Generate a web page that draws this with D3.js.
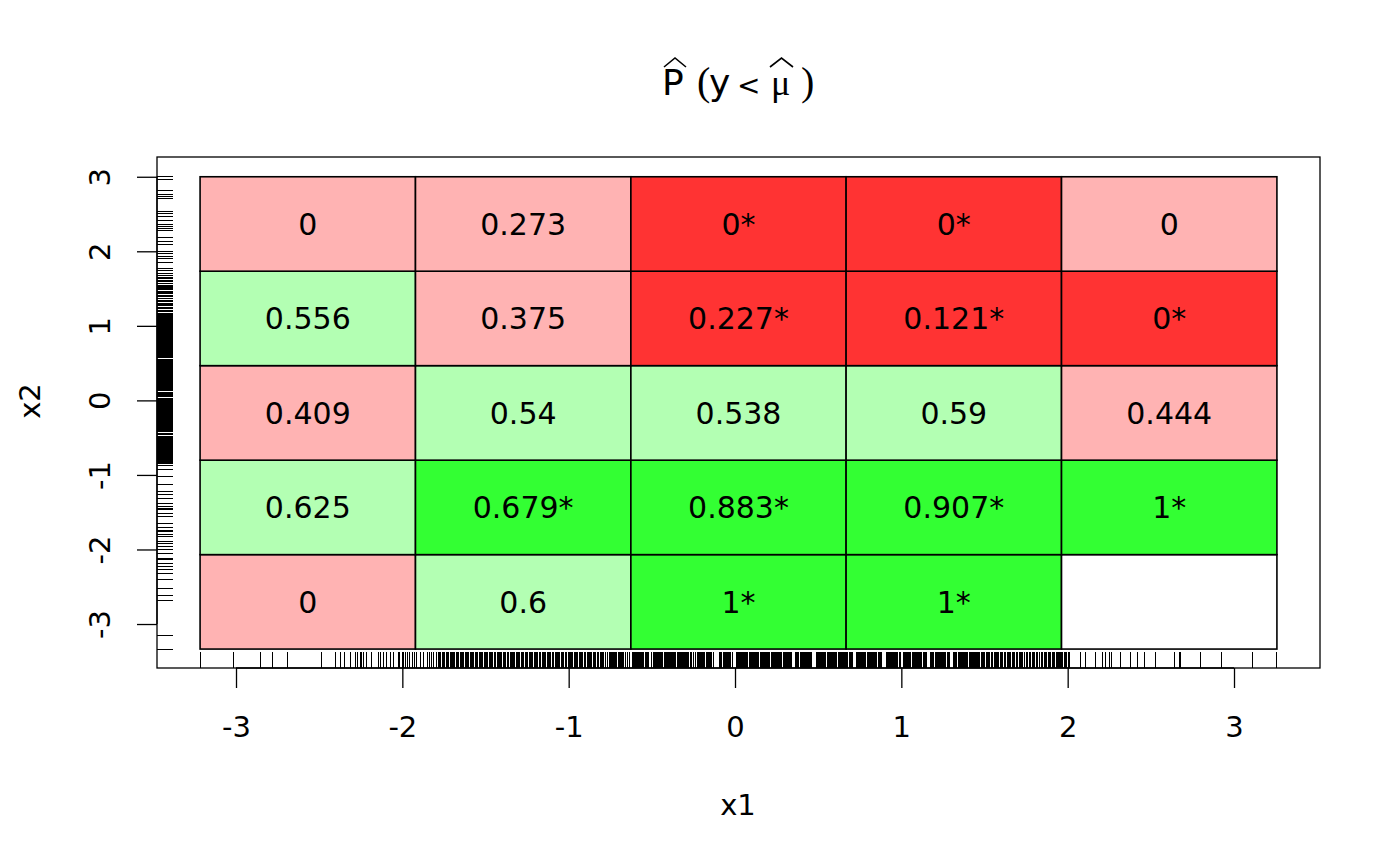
<!DOCTYPE html>
<html>
<head>
<meta charset="utf-8">
<script src="https://cdn.jsdelivr.net/npm/d3@7"></script>
<style>
  html, body { margin: 0; padding: 0; background: #fff; }
  svg { display: block; }
  text { font-family: "DejaVu Sans", sans-serif; fill: #000; }
</style>
</head>
<body>
<svg id="chart" width="1400" height="865"></svg>
<script>
// ---- data ----
const xBreaks = [-3.216, -1.921, -0.626, 0.668, 1.963, 3.258];
const yBreaks = [-3.336, -2.069, -0.802, 0.466, 1.733, 3.0];
// rows listed from bottom (y bin 1) to top (y bin 5), columns x bin 1..5
const cellValues = [
  [0, 0.6, 1, 1, null],
  [0.625, 0.679, 0.883, 0.907, 1],
  [0.409, 0.54, 0.538, 0.59, 0.444],
  [0.556, 0.375, 0.227, 0.121, 0],
  [0, 0.273, 0, 0, 0]
];
const cellSignif = [
  [false, false, true, true, false],
  [false, true, true, true, true],
  [false, false, false, false, false],
  [false, false, true, true, true],
  [false, false, true, true, false]
];
const xTicks = [-3, -2, -1, 0, 1, 2, 3];
const yTicks = [-3, -2, -1, 0, 1, 2, 3];
const x1Rug = [-3.216,-3.016,-2.851,-2.779,-2.688,-2.484,-2.400,-2.369,-2.350,-2.314,-2.279,-2.267,-2.253,-2.243,-2.233,-2.213,-2.183,-2.143,-2.129,-2.113,-2.093,-2.073,-2.053,-2.025,-2.015,-2.002,-1.991,-1.980,-1.968,-1.957,-1.936,-1.928,-1.912,-1.892,-1.872,-1.851,-1.838,-1.826,-1.811,
-1.796,-1.783,-1.771,-1.758,-1.744,-1.737,-1.721,-1.705,-1.698,-1.684,-1.669,-1.661,-1.645,-1.632,-1.622,-1.607,-1.593,-1.584,-1.570,-1.554,-1.546,-1.530,-1.517,-1.507,-1.493,-1.478,-1.468,-1.455,-1.439,-1.430,-1.416,-1.401,-1.391,-1.377,-1.362,-1.352,-1.339,-1.324,-1.313,-1.300,-1.285,-1.275,-1.262,-1.246,-1.236,-1.223,-1.208,-1.197,-1.185,-1.169,-1.159,-1.146,-1.130,-1.120,-1.107,-1.092,-1.081,-1.069,-1.053,-1.043,-1.030,-1.015,-1.004,-0.991,-0.976,-0.966,-0.953,-0.937,-0.927,-0.914,-0.899,-0.888,-0.876,-0.860,-0.850,-0.837,-0.821,-0.811,-0.798,-0.764,-0.750,-0.734,-0.723,-0.711,-0.696,-0.685,-0.672,-0.645,-0.619,-0.607,-0.594,-0.580,-0.568,-0.555,-0.541,-0.529,-0.491,-0.478,-0.464,-0.452,-0.440,-0.425,-0.413,-0.401,-0.387,-0.375,-0.362,-0.348,-0.336,-0.323,-0.309,-0.297,-0.284,-0.270,-0.235,-0.220,-0.207,-0.194,-0.181,-0.168,-0.155,-0.142,-0.093,-0.079,-0.066,-0.053,-0.040,-0.027,0.006,0.019,0.032,0.046,0.059,0.072,0.085,0.098,0.112,0.125,0.138,0.151,0.164,0.177,0.190,0.204,0.217,0.230,0.243,0.256,0.269,0.282,0.296,0.309,0.322,0.335,0.366,0.378,0.391,0.404,0.417,0.430,0.443,0.456,0.488,0.502,0.515,0.528,0.541,0.554,0.567,0.580,0.594,0.607,0.620,0.633,0.646,0.659,0.672,0.686,0.699,0.728,0.741,0.755,0.768,0.781,0.794,0.807,0.820,0.833,0.847,0.860,0.873,0.908,0.921,0.934,0.947,0.960,0.973,0.986,1.013,1.026,1.039,1.052,1.065,1.078,1.091,1.105,1.118,1.131,1.144,1.177,1.190,1.203,1.216,1.229,1.242,1.255,1.268,1.283,1.315,1.328,1.341,1.354,1.367,1.380,1.393,
-0.790,-0.778,-0.757,-0.742,-0.729,-0.716,-0.703,-0.690,-0.678,-0.659,-0.632,-0.612,-0.600,-0.587,-0.574,-0.561,-0.548,-0.535,-0.518,-0.504,-0.485,-0.471,-0.458,-0.446,-0.433,-0.419,-0.407,-0.394,-0.381,-0.368,-0.355,-0.342,-0.329,-0.316,-0.303,-0.290,-0.277,-0.262,-0.248,-0.227,-0.213,-0.200,-0.187,-0.174,-0.161,-0.148,-0.128,-0.086,-0.072,-0.059,-0.046,-0.033,-0.018,0.012,0.025,0.039,0.052,0.065,0.078,0.091,0.105,0.118,0.131,0.144,0.157,0.170,0.183,0.197,0.210,0.223,0.236,0.249,0.262,0.275,0.289,0.302,0.315,0.328,0.342,0.372,0.384,0.397,0.410,0.423,0.436,0.449,0.462,0.495,0.508,0.521,0.534,0.547,0.560,0.573,0.587,0.600,0.613,0.626,0.639,0.652,0.665,0.679,0.692,0.705,0.735,0.748,0.761,0.774,0.787,0.800,0.813,0.826,0.840,0.853,0.866,0.880,0.914,0.927,0.940,0.953,0.966,0.979,0.993,1.019,1.032,1.045,1.058,1.071,1.084,1.098,1.111,1.124,1.137,1.150,1.183,1.196,1.209,1.222,1.235,1.248,1.261,1.275,1.290,1.321,1.334,1.347,1.360,1.373,1.386,1.400,
-1.776,-1.751,-1.727,-1.712,-1.690,-1.676,-1.652,-1.638,-1.615,-1.600,-1.577,-1.562,-1.539,-1.524,-1.500,-1.486,-1.462,-1.447,-1.424,-1.409,-1.384,-1.370,-1.346,-1.331,-1.307,-1.293,-1.269,-1.254,-1.230,-1.215,-1.191,-1.177,-1.153,-1.138,-1.114,-1.100,-1.076,-1.061,-1.037,-1.022,-0.998,-0.984,-0.960,-0.945,-0.921,-0.906,-0.882,-0.868,-0.844,-0.829,-0.805,
1.407,1.414,1.421,1.427,1.432,1.440,1.446,1.452,1.459,1.465,1.471,1.480,1.488,1.495,1.502,1.509,1.517,1.525,1.533,1.542,1.551,1.558,1.566,1.572,1.578,1.586,1.594,1.603,1.611,1.620,1.629,1.636,1.643,1.650,1.658,1.667,1.675,1.683,1.690,1.699,1.709,1.716,1.722,1.731,1.741,1.750,1.760,1.769,1.778,1.786,1.793,1.802,1.812,1.821,1.831,1.840,1.850,1.858,1.866,1.875,1.884,1.891,1.899,1.907,1.915,1.923,1.931,1.939,1.946,1.952,1.958,1.964,1.969,1.978,1.986,1.995,2.004,2.012,2.079,2.109,2.169,2.209,2.229,2.249,2.264,2.320,2.375,2.420,2.460,2.530,2.640,2.670,2.681,2.797,2.925,3.112,3.258];
const x2Rug = [3.000,2.960,2.816,2.768,2.736,2.705,2.534,2.513,2.467,2.413,2.356,2.333,2.302,2.279,2.191,2.131,2.087,1.997,1.976,1.930,1.909,1.850,1.774,1.742,1.707,1.671,
1.652,1.637,1.629,1.611,1.598,1.590,1.571,1.563,1.547,1.529,1.520,1.506,1.488,1.481,1.466,1.450,1.437,1.429,1.413,1.396,1.387,1.371,1.362,1.344,1.330,1.324,1.306,1.291,1.283,1.268,1.250,1.239,1.227,1.211,1.198,1.190,1.172,1.160,1.149,1.133,1.120,1.107,1.095,1.081,1.066,1.058,1.043,1.027,1.016,1.004,0.989,0.973,0.966,0.949,0.937,0.925,0.908,0.896,0.887,0.869,0.855,0.846,0.830,0.817,0.805,0.791,0.776,0.768,0.750,0.738,0.727,0.711,0.699,0.686,0.672,0.660,0.648,0.631,0.622,0.607,0.593,0.581,0.570,0.553,0.542,0.529,0.515,0.503,0.490,0.476,0.465,0.451,0.437,0.426,0.412,0.398,0.388,0.372,0.361,0.348,0.333,0.321,0.309,0.294,0.282,0.270,0.254,0.245,0.229,0.216,0.205,0.190,0.177,0.166,0.150,0.139,0.126,0.110,0.099,0.085,0.071,0.060,0.046,0.032,0.021,0.007,-0.008,-0.019,-0.033,-0.048,-0.058,-0.073,-0.087,-0.097,-0.112,-0.127,-0.136,-0.151,-0.166,-0.176,-0.190,-0.205,-0.214,-0.229,-0.244,-0.253,-0.268,-0.283,-0.292,-0.307,-0.322,-0.331,-0.346,-0.361,-0.371,-0.385,-0.400,-0.410,-0.424,-0.439,-0.449,-0.463,-0.478,-0.488,-0.502,-0.517,-0.527,-0.541,-0.556,-0.566,-0.580,-0.595,-0.605,-0.619,-0.634,-0.644,-0.658,-0.673,-0.683,-0.697,-0.712,-0.722,-0.736,-0.751,-0.761,-0.775,-0.790,-0.800,-0.814,-0.829,-0.839,-0.853,-0.868,-0.878,
-0.933,-1.023,-1.134,-1.224,-1.268,-1.313,-1.380,-1.426,-1.448,-1.470,-1.514,-1.560,-1.648,-1.711,-1.740,-1.765,-1.797,-1.828,-1.895,-1.917,-1.963,-2.007,-2.051,-2.118,-2.141,-2.185,-2.231,-2.275,-2.319,-2.400,-2.521,-2.611,-2.678,-3.148,-3.336];

// ---- colours ----
const colLightRed = "#FFB3B3", colRed = "#FF3333", colLightGreen = "#B3FFB3", colGreen = "#33FF33";
function cellColor(v, s) {
  if (v === null) return "#FFFFFF";
  if (v < 0.5) return s ? colRed : colLightRed;
  return s ? colGreen : colLightGreen;
}

const svg = d3.select("#chart");
const plotL = 157, plotR = 1320, plotT = 157, plotB = 668;
const x = d3.scaleLinear().domain([-3.475, 3.517]).range([plotL, plotR]);
const y = d3.scaleLinear().domain([-3.59, 3.265]).range([plotB, plotT]);
const fmt = d => String(d);

// cells
const cells = [];
cellValues.forEach((row, ri) => row.forEach((v, ci) => {
  cells.push({v, s: cellSignif[ri][ci], x0: xBreaks[ci], x1: xBreaks[ci+1], y0: yBreaks[ri], y1: yBreaks[ri+1]});
}));
const g = svg.append("g");
g.selectAll("rect.cell").data(cells).join("rect")
  .attr("class", "cell")
  .attr("x", d => x(d.x0)).attr("y", d => y(d.y1))
  .attr("width", d => x(d.x1) - x(d.x0)).attr("height", d => y(d.y0) - y(d.y1))
  .attr("fill", d => cellColor(d.v, d.s))
  .attr("stroke", "#000").attr("stroke-width", 1.6);
g.selectAll("text.lab").data(cells.filter(d => d.v !== null)).join("text")
  .attr("class", "lab")
  .attr("x", d => x((d.x0 + d.x1) / 2)).attr("y", d => y((d.y0 + d.y1) / 2))
  .attr("dy", "0.36em").attr("text-anchor", "middle")
  .style("font-size", "30px")
  .text(d => fmt(d.v) + (d.s ? "*" : ""));

// rugs
const rugLen = 16;
svg.append("g").attr("shape-rendering", "crispEdges").selectAll("line").data(x1Rug).join("line")
  .attr("x1", d => x(d)).attr("x2", d => x(d))
  .attr("y1", plotB).attr("y2", plotB - rugLen)
  .attr("stroke", "#000").attr("stroke-width", 1);
svg.append("g").attr("shape-rendering", "crispEdges").selectAll("line").data(x2Rug).join("line")
  .attr("y1", d => y(d)).attr("y2", d => y(d))
  .attr("x1", plotL).attr("x2", plotL + rugLen)
  .attr("stroke", "#000").attr("stroke-width", 1);

// box
svg.append("rect").attr("x", plotL).attr("y", plotT)
  .attr("width", plotR - plotL).attr("height", plotB - plotT)
  .attr("fill", "none").attr("stroke", "#000").attr("stroke-width", 1.3);

// axes
const xAxis = svg.append("g").attr("transform", `translate(0,${plotB})`)
  .call(d3.axisBottom(x).tickValues(xTicks).tickSize(20).tickFormat(fmt));
xAxis.select(".domain").remove();
xAxis.selectAll(".tick line").attr("stroke-width", 1.3);
xAxis.selectAll(".tick text").attr("y", 59).attr("dy", "0.36em")
  .style("font-size", "29px").style("font-family", '"DejaVu Sans", sans-serif');
xAxis.append("line").attr("x1", x(xTicks[0])).attr("x2", x(xTicks[xTicks.length-1]))
  .attr("y1", 0).attr("y2", 0).attr("stroke", "#000").attr("stroke-width", 1.3);

const yAxis = svg.append("g").attr("transform", `translate(${plotL},0)`)
  .call(d3.axisLeft(y).tickValues(yTicks).tickSize(20).tickFormat(fmt));
yAxis.select(".domain").remove();
yAxis.selectAll(".tick line").attr("stroke-width", 1.3);
yAxis.selectAll(".tick text").attr("x", 0).attr("y", 0).attr("dy", "0.36em")
  .attr("text-anchor", "middle")
  .attr("transform", "translate(-57,0) rotate(-90)")
  .style("font-size", "29px").style("font-family", '"DejaVu Sans", sans-serif');
yAxis.append("line").attr("y1", y(yTicks[0])).attr("y2", y(yTicks[yTicks.length-1]))
  .attr("x1", 0).attr("x2", 0).attr("stroke", "#000").attr("stroke-width", 1.3);

// axis titles
svg.append("text").attr("x", 738).attr("y", 805).attr("dy", "0.36em")
  .attr("text-anchor", "middle").style("font-size", "29px").text("x1");
svg.append("text").attr("transform", "translate(30,401) rotate(-90)")
  .attr("dy", "0.36em").attr("text-anchor", "middle").style("font-size", "29px").text("x2");

// title: P̂(y < μ̂)
const serif = '"Liberation Serif", "DejaVu Serif", serif';
const title = svg.append("text").attr("y", 95).attr("text-anchor", "start");
title.append("tspan").attr("x", 662).style("font-size", "36px").text("P");
title.append("tspan").attr("x", 697).style("font-family", serif).style("font-size", "40px").text("(");
title.append("tspan").attr("x", 709).style("font-size", "36px").text("y");
title.append("tspan").attr("x", 737).style("font-size", "28px").text("<");
title.append("tspan").attr("x", 771).style("font-family", serif).style("font-size", "36px").text("μ");
title.append("tspan").attr("x", 801).style("font-family", serif).style("font-size", "40px").text(")");
function hat(x0, x1) {
  svg.append("path")
    .attr("d", `M${x0},67 L${(x0 + x1) / 2},58 L${x1},67`)
    .attr("fill", "none").attr("stroke", "#000").attr("stroke-width", 1.6);
}
hat(664, 686);
hat(770, 793);
</script>
</body>
</html>
